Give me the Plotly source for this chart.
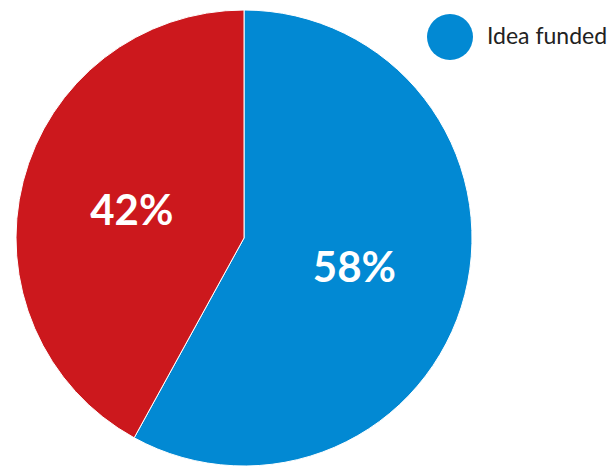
import plotly.graph_objects as go

labels = ["Idea funded", "Idea not funded"]
values = [58, 42]
colors = ["#0289d3", "#cc181d"]
text_labels = ["58%", "42%"]

W, H = 614, 466

fig = go.Figure()
fig.add_trace(go.Pie(
    labels=labels,
    values=values,
    text=text_labels,
    textinfo="text",
    textposition="inside",
    insidetextorientation="horizontal",
    sort=False,
    direction="clockwise",
    rotation=0,
    marker=dict(colors=colors, line=dict(color="#ffffff", width=1)),
    textfont=dict(family="Lato", size=42, color="#ffffff", weight="bold"),
    domain=dict(x=[15 / W, 473 / W], y=[0, 1 - 10 / H]),
    showlegend=False,
    hoverinfo="label+percent",
))

# custom legend (large circle marker)
fig.add_shape(type="circle", xref="paper", yref="paper",
              x0=427 / W, x1=473 / W, y0=1 - 60 / H, y1=1 - 14 / H,
              fillcolor=colors[0], line=dict(width=0))
fig.add_annotation(xref="paper", yref="paper", x=485 / W, y=1 - 35 / H,
                   xanchor="left", yanchor="middle", showarrow=False,
                   text=labels[0], font=dict(family="Lato", size=23, color="#222222"))

fig.update_layout(
    width=W, height=H,
    margin=dict(l=0, r=0, t=0, b=0),
    paper_bgcolor="white",
    plot_bgcolor="white",
)

fig.write_html("out.html")
